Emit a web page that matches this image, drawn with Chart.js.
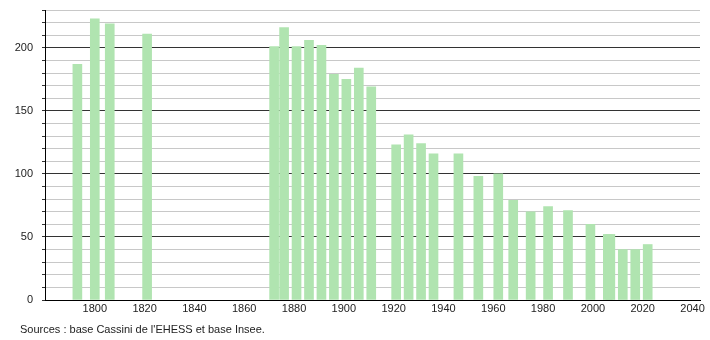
<!DOCTYPE html>
<html>
<head>
<meta charset="utf-8">
<script src="https://cdn.jsdelivr.net/npm/chart.js@4/dist/chart.umd.min.js"></script>
<style>
    body { margin: 0; background: #fff; }
    #wrap { position: relative; width: 710px; height: 340px; }
    #source {
        position: absolute; left: 20px; top: 323px;
        font: 11px "Liberation Sans", Arial, sans-serif; color: #222;
    }
</style>
</head>
<body>
<div id="wrap">
    <canvas id="myChart" width="710" height="340"></canvas>
    <div id="source">Sources : base Cassini de l'EHESS et base Insee.</div>
</div>
<script>
const years = [1793, 1800, 1806, 1821, 1872, 1876, 1881, 1886, 1891, 1896, 1901, 1906, 1911,
    1921, 1926, 1931, 1936, 1946, 1954, 1962, 1968, 1975, 1982, 1990, 1999, 2006, 2007, 2012, 2017, 2022];
const population = [187, 223, 219, 211, 201, 216, 201, 206, 202, 179, 175, 184, 169,
    123, 131, 124, 116, 116, 98, 100, 79, 70, 74, 71, 60, 52, 52, 40, 40, 44];
const xTicks = [1800, 1820, 1840, 1860, 1880, 1900, 1920, 1940, 1960, 1980, 2000, 2020, 2040];
const yLabels = [0, 50, 100, 150, 200];

const ctx = document.getElementById('myChart').getContext('2d');

Chart.defaults.font.family = '"Liberation Sans", Arial, sans-serif';
Chart.defaults.font.size = 11;
Chart.defaults.color = '#222';

const myChart = new Chart(ctx, {
    type: 'bar',
    data: {
        datasets: [{
            label: 'Population',
            data: years.map((y, i) => ({ x: y, y: population[i] })),
            backgroundColor: 'rgb(176, 228, 176)',
            barThickness: 9,
            borderWidth: 0
        }]
    },
    options: {
        responsive: false,
        animation: false,
        layout: { padding: { top: 10, right: 10, left: 0, bottom: 0 } },
        plugins: {
            legend: { display: false },
            tooltip: { enabled: false }
        },
        scales: {
            x: {
                type: 'linear',
                min: 1780,
                max: 2043,
                offset: false,
                afterBuildTicks: (scale) => {
                    scale.ticks = xTicks.map(v => ({ value: v }));
                },
                afterFit: (scale) => { scale.height = 40; },
                ticks: {
                    autoSkip: false,
                    maxRotation: 0,
                    padding: 2,
                    callback: (v) => String(v)
                },
                grid: { display: false, drawTicks: false, tickLength: 0 },
                border: { display: true, color: '#000', width: 1 }
            },
            y: {
                min: 0,
                max: 230,
                afterFit: (scale) => {
                    scale.width = 45;
                    scale.paddingTop = 0;
                    scale.paddingBottom = 0;
                },
                ticks: {
                    stepSize: 10,
                    autoSkip: false,
                    padding: 9,
                    callback: (v) => yLabels.includes(v) ? String(v) : ''
                },
                grid: {
                    color: (c) => c.tick && c.tick.value % 50 === 0 ? '#333' : '#c8c8c8',
                    tickColor: '#333',
                    tickLength: 3,
                    lineWidth: 1
                },
                border: { display: true, color: '#000', width: 1 }
            }
        }
    }
});
</script>
</body>
</html>
